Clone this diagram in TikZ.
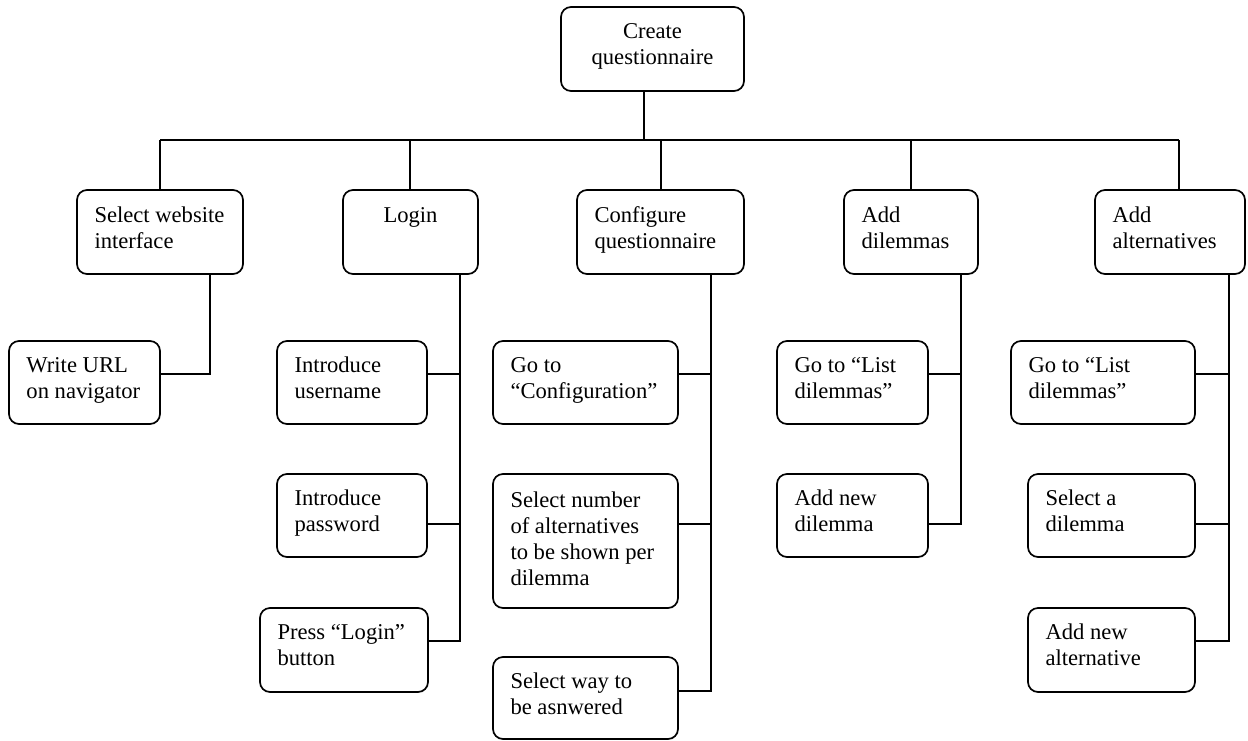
\documentclass[tikz,border=0pt]{standalone}
\usepackage{fontspec}
\setmainfont{Liberation Serif}
\usetikzlibrary{calc}
\tikzset{
  box/.style={draw, line width=1.7pt, rounded corners=10pt, inner sep=0pt, outer sep=0pt},
  lbl/.style={inner sep=0pt, outer sep=0pt, font=\fontsize{22.6}{26}\selectfont},
  wire/.style={line width=1.6pt},
}
% multi-line text blocks whose baseline is the first line
\newcommand\lft[1]{\begin{tabular}[t]{@{}l@{}}#1\end{tabular}}
\newcommand\ctr[1]{\begin{tabular}[t]{@{}c@{}}#1\end{tabular}}
% \boxat{name}{x1}{y1}{x2}{y2}: rounded box between two corners
\newcommand\boxat[5]{\node[box, minimum width={#4-#2}, minimum height={#5-#3}] (#1) at ({(#2+#4)/2},{(#3+#5)/2}) {};}
% \txtat{box}{dy}{text}: left-aligned text inside a box
\newcommand\txtat[3]{\node[lbl, anchor=base west] (#1-t) at ($(#1.north west)+(17.5,#2)$) {\lft{#3}};}

\begin{document}
\begin{tikzpicture}[x=1pt, y=-1pt]
\useasboundingbox (0,0) rectangle (1248,740);

% root
\boxat{root}{561}{7}{744}{91}
\node[lbl, anchor=base] (root-t) at ($(root.north)+(0,31)$) {\ctr{Create\\questionnaire}};

% second level
\boxat{sw}{77}{190}{243}{274}
\boxat{login}{343}{190}{478}{274}
\boxat{conf}{577}{190}{744}{274}
\boxat{dil}{844}{190}{978}{274}
\boxat{alt}{1095}{190}{1245}{274}
\txtat{sw}{32}{Select website\\interface}
\node[lbl, anchor=base] (login-t) at ($(login.north)+(0,32)$) {Login};
\txtat{conf}{32}{Configure\\questionnaire}
\txtat{dil}{32}{Add\\dilemmas}
\txtat{alt}{32}{Add\\alternatives}

% third level
\boxat{url}{9}{341}{160}{424}
\boxat{user}{277}{341}{427}{424}
\boxat{pass}{277}{474}{427}{557}
\boxat{press}{260}{608}{428}{692}
\boxat{goto}{493}{341}{678}{424}
\boxat{selnum}{493}{474}{678}{608}
\boxat{selway}{493}{657}{678}{739}
\boxat{dgo}{777}{341}{928}{424}
\boxat{dnew}{777}{474}{928}{557}
\boxat{ago}{1011}{341}{1195}{424}
\boxat{asel}{1028}{474}{1195}{557}
\boxat{anew}{1028}{608}{1195}{692}

\txtat{url}{31}{Write URL\\on navigator}
\txtat{user}{31}{Introduce\\username}
\txtat{pass}{31}{Introduce\\password}
\txtat{press}{31}{Press “Login”\\button}
\txtat{goto}{31}{Go to\\“Configuration”}
\txtat{selnum}{33.5}{Select number\\of alternatives\\to be shown per\\dilemma}
\txtat{selway}{31}{Select way to\\be asnwered}
\txtat{dgo}{31}{Go to “List\\dilemmas”}
\txtat{dnew}{31}{Add new\\dilemma}
\txtat{ago}{31}{Go to “List\\dilemmas”}
\txtat{asel}{31}{Select a\\dilemma}
\txtat{anew}{31}{Add new\\alternative}

% bus under the root and the drops to the second level
\coordinate (busL) at (160,140);
\coordinate (busR) at (1179,140);
\coordinate (rootdrop) at (644,140);
\coordinate (lgdrop) at (410,140);
\coordinate (cfdrop) at (661,140);
\coordinate (dldrop) at (911,140);
\draw[wire] (rootdrop |- root.south) -- (rootdrop);
\draw[wire] (busL) -- (busR);
\draw[wire] (busL) -- (busL |- sw.north);
\draw[wire] (lgdrop) -- (lgdrop |- login.north);
\draw[wire] (cfdrop) -- (cfdrop |- conf.north);
\draw[wire] (dldrop) -- (dldrop |- dil.north);
\draw[wire] (busR) -- (busR |- alt.north);

% rows where children attach
\coordinate (r1) at (0,374);
\coordinate (r2) at (0,524);
\coordinate (r3) at (0,641);
\coordinate (r4) at (0,691);

% select website interface
\coordinate (swT) at (210,0);
\draw[wire] (swT |- sw.south) |- (url.east |- r1);

% login
\coordinate (lgT) at (460,0);
\draw[wire] (lgT |- login.south) |- (press.east |- r3);
\draw[wire] (lgT |- r1) -- (user.east |- r1);
\draw[wire] (lgT |- r2) -- (pass.east |- r2);

% configure questionnaire
\coordinate (cfT) at (711,0);
\draw[wire] (cfT |- conf.south) |- (selway.east |- r4);
\draw[wire] (cfT |- r1) -- (goto.east |- r1);
\draw[wire] (cfT |- r2) -- (selnum.east |- r2);

% add dilemmas
\coordinate (dlT) at (961,0);
\draw[wire] (dlT |- dil.south) |- (dnew.east |- r2);
\draw[wire] (dlT |- r1) -- (dgo.east |- r1);

% add alternatives
\coordinate (alT) at (1229,0);
\draw[wire] (alT |- alt.south) |- (anew.east |- r3);
\draw[wire] (alT |- r1) -- (ago.east |- r1);
\draw[wire] (alT |- r2) -- (asel.east |- r2);
\end{tikzpicture}
\end{document}
